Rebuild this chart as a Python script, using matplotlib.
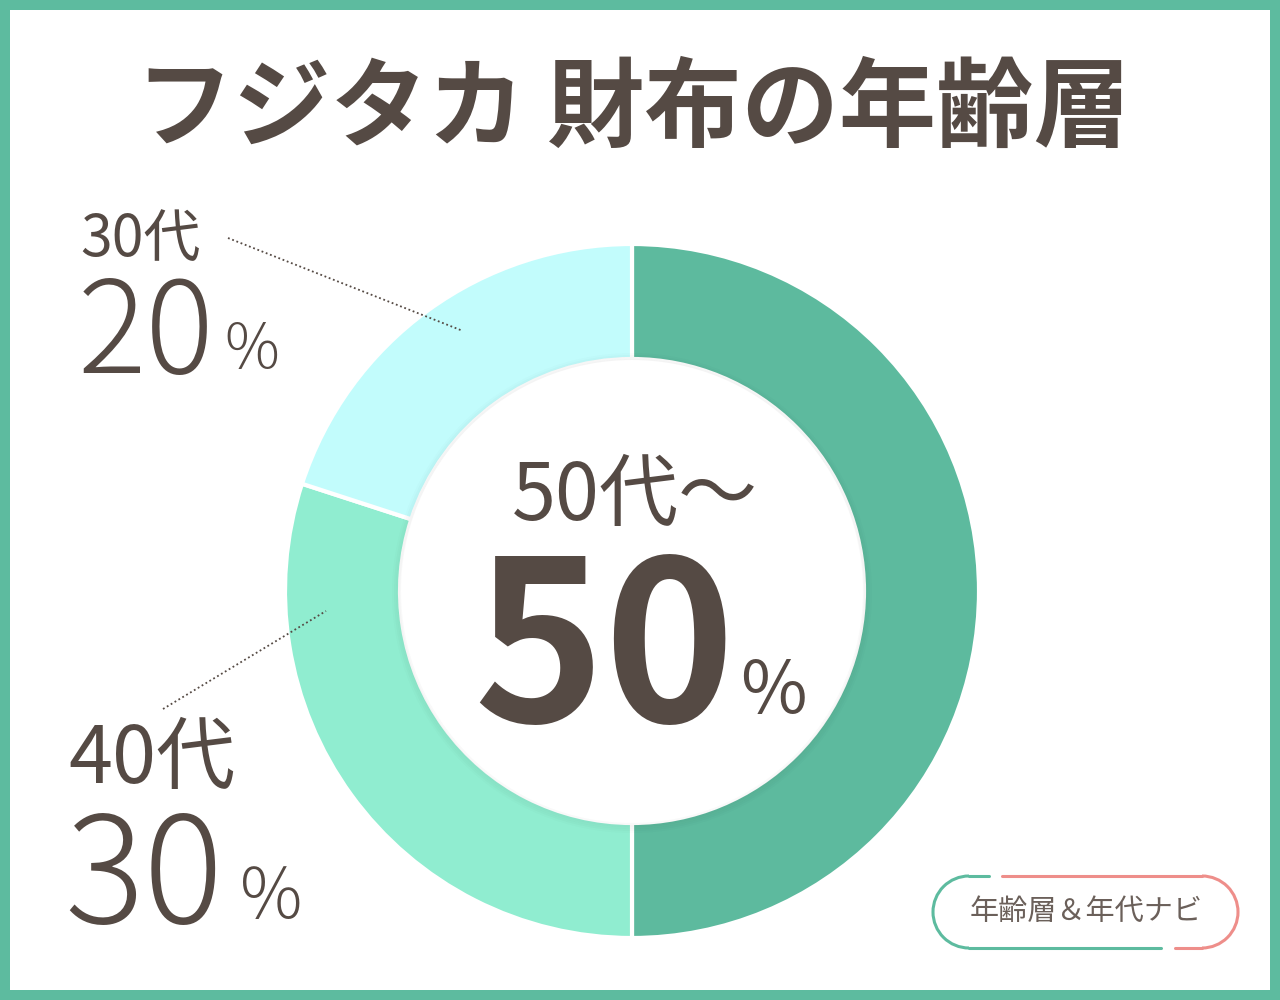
import matplotlib
matplotlib.use("Agg")
import matplotlib.pyplot as plt
from matplotlib.patches import Rectangle, Circle, Arc
import numpy as np

plt.rcParams['font.family'] = ['Noto Sans CJK JP', 'DejaVu Sans']

title = "フジタカ 財布の年齢層"
labels = ["50代～", "40代", "30代"]
values = [50, 30, 20]
colors = ["#5DBA9E", "#90EDD0", "#C2FCFC"]
badge_text = "年齢層＆年代ナビ"

TXT = "#554A44"
GREEN = "#5DBB9F"
PINK = "#EE8E8A"

fig = plt.figure(figsize=(12.8, 10), dpi=100)
ax = fig.add_axes([0, 0, 1, 1])
ax.set_xlim(0, 1280)
ax.set_ylim(0, 1000)
ax.set_aspect('equal')
ax.axis('off')

def Y(y):
    return 1000 - y

# frame
ax.add_patch(Rectangle((0, 0), 1280, 1000, facecolor=GREEN, edgecolor='none', zorder=0))
ax.add_patch(Rectangle((10, 10), 1260, 980, facecolor='white', edgecolor='none', zorder=0.5))

# donut
cx, cy, R = 632, Y(591), 347
ax.pie(values, colors=colors, startangle=90, counterclock=False,
       center=(cx, cy), radius=R,
       wedgeprops=dict(width=115, edgecolor='white', linewidth=3), frame=True)
ax.set_xlim(0, 1280)
ax.set_ylim(0, 1000)
ax.axis('off')

# subtle shadow of inner circle
for i, a in enumerate([0.025, 0.02, 0.015, 0.01]):
    ax.add_patch(Circle((cx, cy - 2), 232 + 2 * i, facecolor='none', edgecolor='#000000',
                        alpha=a, linewidth=3, zorder=3))
ax.add_patch(Circle((cx, cy), 231, facecolor='white', edgecolor='none', zorder=4))

# title
ax.text(633, Y(110), title, ha='center', va='center', fontsize=70, fontweight='bold', color=TXT, zorder=5)

# center text
ax.text(635, Y(497), labels[0], ha='center', va='center', fontsize=57, color=TXT, zorder=5)
ax.text(604, Y(722), f"{values[0]}", ha='center', va='baseline', fontsize=160, fontweight='bold',
        color=TXT, zorder=5)
ax.text(740, Y(713), "%", ha='left', va='baseline', fontsize=52, color=TXT, zorder=5)

# 30代 label
ax.text(80, Y(240), labels[2], ha='left', va='center', fontsize=41, color=TXT, zorder=5)
ax.text(78, Y(373), f"{values[2]}", ha='left', va='baseline', fontsize=92, fontweight='light', color=TXT, zorder=5)
ax.text(224, Y(368), "%", ha='left', va='baseline', fontsize=44, fontweight='light', color=TXT, zorder=5)
ax.plot([228, 463], [Y(238), Y(331)], linestyle=(0, (1, 1.5)), color=TXT, linewidth=1.3, zorder=5)

# 40代 label
ax.text(68, Y(760), labels[1], ha='left', va='center', fontsize=57, color=TXT, zorder=5)
ax.text(64, Y(923), f"{values[1]}", ha='left', va='baseline', fontsize=107, fontweight='light', color=TXT, zorder=5)
ax.text(240, Y(918), "%", ha='left', va='baseline', fontsize=50, fontweight='light', color=TXT, zorder=5)
ax.plot([163, 326], [Y(709), Y(611)], linestyle=(0, (1, 1.5)), color=TXT, linewidth=1.3, zorder=5)

# badge
lc, rc, bcy, br = 969, 1202, Y(912), 36
lw = 2.2
ax.plot([989, lc], [bcy + br, bcy + br], color=GREEN, lw=lw, solid_capstyle='round', zorder=5)
ax.add_patch(Arc((lc, bcy), 2 * br, 2 * br, theta1=90, theta2=270, color=GREEN, lw=lw, zorder=5))
ax.plot([lc, 1161], [bcy - br, bcy - br], color=GREEN, lw=lw, solid_capstyle='round', zorder=5)
ax.plot([1002, rc], [bcy + br, bcy + br], color=PINK, lw=lw, solid_capstyle='round', zorder=5)
ax.add_patch(Arc((rc, bcy), 2 * br, 2 * br, theta1=-90, theta2=90, color=PINK, lw=lw, zorder=5))
ax.plot([rc, 1175], [bcy - br, bcy - br], color=PINK, lw=lw, solid_capstyle='round', zorder=5)
ax.text(1086, bcy, badge_text, ha='center', va='center', fontsize=21, color='#6B605A', zorder=5)

fig.savefig("out.png", dpi=100)
